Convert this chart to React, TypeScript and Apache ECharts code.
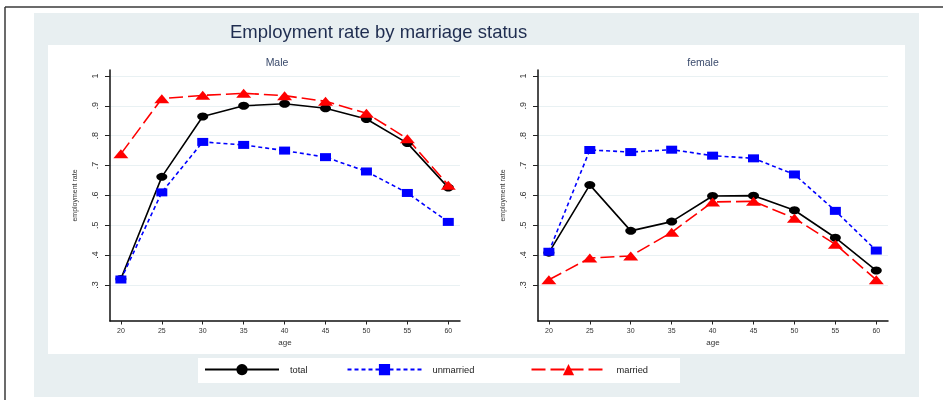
import React, { useEffect, useRef } from 'react';
import * as echarts from 'echarts';

const ages = [20, 25, 30, 35, 40, 45, 50, 55, 60];
const yTicks = [0.3, 0.4, 0.5, 0.6, 0.7, 0.8, 0.9, 1];
const maleTotal = [0.32, 0.662, 0.864, 0.9, 0.907, 0.892, 0.856, 0.775, 0.626];
const maleUnmarried = [0.318, 0.61, 0.779, 0.769, 0.75, 0.728, 0.68, 0.608, 0.511];
const maleMarried = [0.739, 0.924, 0.935, 0.942, 0.934, 0.915, 0.875, 0.79, 0.634];
const femaleTotal = [0.408, 0.635, 0.481, 0.512, 0.598, 0.599, 0.55, 0.458, 0.348];
const femaleUnmarried = [0.411, 0.752, 0.745, 0.753, 0.733, 0.724, 0.67, 0.548, 0.415];
const femaleMarried = [0.317, 0.39, 0.397, 0.476, 0.578, 0.58, 0.523, 0.436, 0.317];
const panelTitles = ['Male', 'female'];
const seriesNames = ['total', 'unmarried', 'married'];

const FONT = 'Arial, "Liberation Sans", Helvetica, sans-serif';

const pair = (vals: number[]) => ages.map((a, i) => [a, vals[i]]);

const styles = [
  { color: '#000000', symbol: 'circle', symbolSize: [11, 8], lineType: 'solid' as any },
  { color: '#0000ff', symbol: 'rect', symbolSize: [11, 8], lineType: [4, 3] },
  { color: '#ff0000', symbol: 'triangle', symbolSize: [15, 9], lineType: [14, 5] },
];

function makeSeries(name: string, idx: number, data: number[], k: number) {
  const s = styles[k];
  return {
    type: 'line',
    name,
    xAxisIndex: idx,
    yAxisIndex: idx,
    data: pair(data),
    symbol: s.symbol,
    symbolSize: s.symbolSize,
    showAllSymbol: true,
    lineStyle: { color: s.color, width: 1.6, type: s.lineType },
    itemStyle: { color: s.color },
    emphasis: { disabled: true },
  };
}

const gridLeft = [110, 538];

export default function App() {
  const ref = useRef<HTMLDivElement>(null);
  useEffect(() => {
    const chart = echarts.init(ref.current!, null, { renderer: 'svg' });
    const xAxes = [0, 1].map((i) => ({
      type: 'value',
      gridIndex: i,
      min: 18.67,
      max: 61.43,
      name: 'age',
      nameLocation: 'middle',
      nameGap: 16,
      nameTextStyle: { fontSize: 8, color: '#333', fontFamily: FONT },
      axisLine: { show: true, lineStyle: { color: '#111', width: 1.5 } },
      axisTick: { show: true, length: 3.5, customValues: ages, lineStyle: { color: '#222' } },
      axisLabel: { customValues: ages, fontSize: 7, color: '#333', margin: 6, fontFamily: FONT },
      splitLine: { show: false },
    }));
    const yAxes = [0, 1].map((i) => ({
      type: 'value',
      gridIndex: i,
      min: 0.179,
      max: 1.02,
      name: 'employment rate',
      nameLocation: 'middle',
      nameGap: 32,
      nameTextStyle: { fontSize: 7, color: '#333', fontFamily: FONT },
      axisLine: { show: true, lineStyle: { color: '#111', width: 1.5 } },
      axisTick: { show: true, length: 5, customValues: yTicks, lineStyle: { color: '#222' } },
      axisLabel: {
        customValues: yTicks,
        rotate: 90,
        fontSize: 9,
        color: '#333',
        margin: 11,
        fontFamily: FONT,
        formatter: (v: number) => (v >= 1 ? '1' : String(Math.round(v * 10) / 10).replace(/^0/, '')),
      },
      splitLine: { show: true, lineStyle: { color: '#e9f1f3', width: 1 } },
    }));
    const legendLeft = [204, 346.5, 530.5];
    const option: any = {
      animation: false,
      title: [
        {
          text: 'Employment rate by marriage status',
          left: 230,
          top: 22,
          padding: 0,
          textStyle: { fontSize: 18.5, fontWeight: 'normal', color: '#1f2d50', fontFamily: FONT },
        },
        ...panelTitles.map((t, i) => ({
          text: t,
          left: i === 0 ? 277 : 703,
          textAlign: 'center',
          top: 56,
          padding: 0,
          textStyle: { fontSize: 10.5, fontWeight: 'normal', color: '#3a4a6c', fontFamily: FONT },
        })),
      ],
      graphic: [
        { type: 'rect', z: -10, shape: { x: 34, y: 13, width: 885, height: 384 }, style: { fill: '#e8eff1' }, silent: true },
        { type: 'rect', z: -9, shape: { x: 48, y: 45, width: 857, height: 309 }, style: { fill: '#ffffff' }, silent: true },
        { type: 'rect', z: -9, shape: { x: 198, y: 358, width: 482, height: 25 }, style: { fill: '#ffffff' }, silent: true },
        { type: 'line', z: -8, shape: { x1: 5, y1: 7, x2: 943, y2: 7 }, style: { stroke: '#3a3a3a', lineWidth: 1.5 }, silent: true },
        { type: 'line', z: -8, shape: { x1: 5, y1: 7, x2: 5, y2: 400 }, style: { stroke: '#3a3a3a', lineWidth: 1.5 }, silent: true },
      ],
      legend: seriesNames.map((n, i) => ({
        data: [n],
        left: legendLeft[i],
        top: 364,
        padding: 0,
        itemWidth: 74,
        itemHeight: 14,
        selectedMode: false,
        textStyle: { fontSize: 9.3, color: '#222', fontFamily: FONT, padding: [0, 0, 0, 6] },
      })),
      grid: gridLeft.map((l) => ({ left: l, top: 70, width: 350, height: 251 })),
      xAxis: xAxes,
      yAxis: yAxes,
      series: [
        makeSeries('total', 0, maleTotal, 0),
        makeSeries('unmarried', 0, maleUnmarried, 1),
        makeSeries('married', 0, maleMarried, 2),
        makeSeries('total', 1, femaleTotal, 0),
        makeSeries('unmarried', 1, femaleUnmarried, 1),
        makeSeries('married', 1, femaleMarried, 2),
      ],
    };
    chart.setOption(option);
    return () => chart.dispose();
  }, []);
  return <div ref={ref} style={{ position: 'fixed', left: 0, top: 0, width: 943, height: 400 }} />;
}
